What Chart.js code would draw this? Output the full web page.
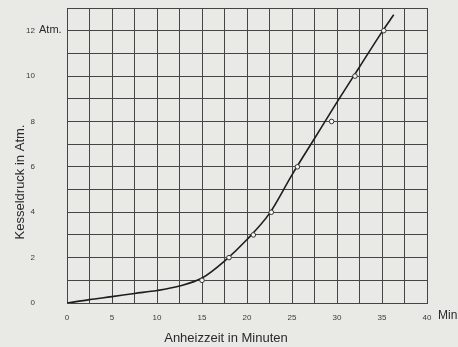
<!DOCTYPE html>
<html><head><meta charset="utf-8">
<script src="https://cdn.jsdelivr.net/npm/chart.js@4/dist/chart.umd.min.js"></script>
<style>html,body{margin:0;padding:0;background:#e9e9e6;}#c{display:block;}</style>
</head><body>
<canvas id="c" width="458" height="347"></canvas>
<script>
const curveX = [0, 2.5, 5, 7.5, 10, 12.5, 15, 17.5, 20, 22.5, 25, 27.5, 30, 32.5, 35, 36.3];
const curveY = [0, 0.15, 0.28, 0.42, 0.55, 0.75, 1.1, 1.85, 2.8, 3.95, 5.65, 7.25, 8.85, 10.4, 11.95, 12.7];
const pointX = [15, 18, 20.7, 22.7, 25.6, 29.4, 32, 35.2];
const pointY = [1, 2, 3, 4, 6, 8, 10, 12];
const xTickLabels = {0:'0',5:'5',10:'10',15:'15',20:'20',25:'25',30:'30',35:'35',40:'40'};
const yTickLabels = {0:'0',2:'2',4:'4',6:'6',8:'8',10:'10',12:'12'};
const xTitle = 'Anheizzeit in Minuten';
const yTitle = 'Kesseldruck in Atm.';
const xUnit = 'Min';
const yUnit = 'Atm.';

const ink = '#2a2a2a';
const gridCol = '#454545';

const extraText = {
  id: 'extraText',
  afterDraw(chart) {
    const {ctx, scales: {x, y}} = chart;
    ctx.save();
    ctx.fillStyle = ink;
    ctx.textBaseline = 'middle';
    ctx.font = '11px "Liberation Sans", Arial, sans-serif';
    ctx.textAlign = 'left';
    ctx.fillText(yUnit, 39, y.getPixelForValue(12) - 1);
    ctx.font = '12px "Liberation Sans", Arial, sans-serif';
    ctx.fillText(xUnit, x.getPixelForValue(40) + 11, 316);
    ctx.font = '13px "Liberation Sans", Arial, sans-serif';
    ctx.textAlign = 'center';
    ctx.fillText(xTitle, 226, 338);
    ctx.translate(20, 182);
    ctx.rotate(-Math.PI / 2);
    ctx.fillText(yTitle, 0, 0);
    ctx.restore();
  }
};

new Chart(document.getElementById('c'), {
  type: 'scatter',
  data: {
    datasets: [
      {
        type: 'line',
        data: curveX.map((v, i) => ({x: v, y: curveY[i]})),
        borderColor: '#1e1e1e',
        borderWidth: 1.6,
        pointRadius: 0,
        fill: false,
        cubicInterpolationMode: 'monotone',
        order: 2
      },
      {
        data: pointX.map((v, i) => ({x: v, y: pointY[i]})),
        pointRadius: 2.3,
        pointBackgroundColor: '#f4f4f2',
        pointBorderColor: '#333',
        pointBorderWidth: 1,
        order: 1
      }
    ]
  },
  options: {
    responsive: false,
    animation: false,
    layout: {padding: {left: 0, right: 31, top: 8, bottom: 0}},
    plugins: {legend: {display: false}, tooltip: {enabled: false}},
    scales: {
      x: {
        type: 'linear', min: 0, max: 40,
        afterFit(s) { s.height = 44; s.paddingLeft = 0; s.paddingRight = 0; },
        ticks: {
          stepSize: 2.5, autoSkip: false, maxRotation: 0, padding: 10,
          color: '#3a3a3a', font: {size: 8, family: '"Liberation Sans", Arial, sans-serif'},
          callback: v => xTickLabels[v] !== undefined ? xTickLabels[v] : ''
        },
        grid: {color: gridCol, lineWidth: 1, drawTicks: false},
        border: {color: gridCol, width: 1}
      },
      y: {
        type: 'linear', min: 0, max: 13,
        afterFit(s) { s.width = 67; s.paddingTop = 0; s.paddingBottom = 0; },
        ticks: {
          stepSize: 1, autoSkip: false, padding: 32,
          color: '#3a3a3a', font: {size: 8, family: '"Liberation Sans", Arial, sans-serif'},
          callback: v => yTickLabels[v] !== undefined ? yTickLabels[v] : ''
        },
        grid: {color: gridCol, lineWidth: 1, drawTicks: false},
        border: {color: gridCol, width: 1}
      }
    }
  },
  plugins: [extraText]
});
</script>
</body></html>
